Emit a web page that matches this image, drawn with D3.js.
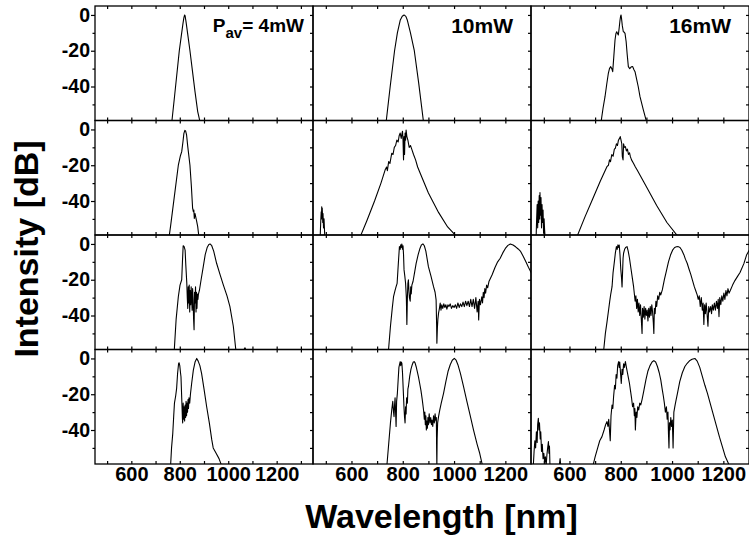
<!DOCTYPE html>
<html lang="en">
<head>
<meta charset="UTF-8">
<title>Spectra vs. average power</title>
<script src="https://cdnjs.cloudflare.com/ajax/libs/d3/7.8.5/d3.min.js"></script>
<style>
  body { margin: 0; background: #fff; }
  svg { display: block; font-family: "Liberation Sans", Arial, sans-serif; font-weight: bold; }
</style>
</head>
<body>
<svg id="chart" width="749" height="542"></svg>
<script>
// ---- data (wavelength nm, intensity dB) ----
const powerLabels = ["4mW", "10mW", "16mW"];
const xTickLabels = [600, 800, 1000, 1200];
const yTickLabels = [-40, -20, 0];
const yMinorTicks = [-50, -30, -10];
const xTickValues = [500, 600, 700, 800, 900, 1000, 1100, 1200, 1300];
const xDomains = [[450, 1350], [450, 1300], [450, 1300]];
const yDomain = [-59, 5];

// column 1: 4 mW
const s4_1 = [[767,-60],[778,-46],[788,-33],[798,-20],[806,-12],[813,-5],[817,-1.5],[820,0],[822,-0.5],[826,-4],[834,-12],[842,-20],[852,-31],[863,-43],[874,-54],[884,-60]];
const s4_2 = [[756,-60],[762,-54],[778,-37],[794,-20],[802,-15],[808,-12.4],[813,-7],[817,-2.2],[821,-0.5],[824,-0.8],[828,-3],[833,-9.6],[842,-20],[848,-32],[853,-44],[856,-46],[858,-45],[860,-49.7],[863,-47],[866,-49],[870,-51.5],[874,-54.3],[879,-60]];
const s4_3 = [[777,-60],[785,-42],[794,-29.5],[801,-23],[808,-20],[811,-10],[814,-1],[818,-1.5],[822,-3.4],[825,-12],[829,-22],
  [831,-30],[833,-36],[835,-24],[837,-33],[839,-23],[841,-38],[843,-26],[845,-34],[847,-24],[849,-30],[851,-37],[853,-25],[855,-31],[857,-42],[859,-48],[861,-27],[863,-33],[865,-24],[867,-38],[869,-27],[871,-36],[873,-28],[875,-31],[877,-28],
  [881,-26],[888,-20],[897,-12.7],[905,-6],[913,-2],[920,-0.3],[925,0],[932,-1],[940,-4],[952,-10.8],[966,-17],[980,-23],[995,-29],[1007,-35],[1021,-46],[1032,-60],[1062,-60],[1069,-58],[1076,-60]];
const s4_4 = [[762,-60],[766,-50],[771,-42],[775,-32],[778,-25],[783,-21],[787,-16.7],[791,-8.3],[795,-3],[797,-2.4],[800,-4],[803,-8],[805,-10.2],[808,-22],[811,-34],
  [812,-36],[814,-25],[816,-34],[818,-27],[820,-35],[822,-26],[824,-33],[826,-24],[828,-32],[830,-25],[832,-30],[834,-23],[836,-28],[838,-22],[841,-25],[844,-20],
  [849,-14],[856,-6.5],[863,-2],[870,0],[876,-1.5],[883,-4],[890,-8.3],[900,-17],[911,-27],[922,-36],[932,-45.4],[938,-50],[950,-53],[962,-56],[973,-60]];

// column 2: 10 mW
const s10_1 = [[735,-60],[751,-40],[768,-20],[779,-10],[790,-3],[798,-0.7],[805,0],[812,-0.8],[818,-3],[830,-10],[845,-20],[862,-38],[881,-60]];
const s10_2 = [[478,-60],[480,-52],[482,-46],[483,-50],[484,-43.2],[485,-49],[486,-44],[488,-52],[489,-47],[491,-55],[493,-50],[496,-60]];
const s10_2b = [[634,-60],[660,-51],[690,-40],[715,-30],[731,-22.7],[737,-21],[740,-23],[745,-18],[750,-19],[757,-13.3],[762,-14],[767,-10],[772,-9],[777,-5.9],[782,-7],[786,-3.5],[790,-2],[794,-5],[796,-3],[799,-1],[801,-6],[803,-17],[805,-4],[807,-14],[809,-2],[811,-6],[813,-0.3],[816,-4],[820,-6],[825,-10],[830,-9],[835,-11],[842,-14],[850,-17],[858,-21],[868,-24.5],[900,-35.5],[940,-46.5],[975,-54.5],[1011,-60]];
const s10_3 = [[744,-60],[752,-46],[759,-36],[764,-29.5],[770,-26],[774,-23.9],[778,-22],[781,-15],[784,-8],[787,-1.5],[790,-3],[792,-0.5],[794,-2],[796.5,0],[799,-3],[801,-1],[803,-6],[805,-14.5],[808,-18],[811,-22],[814,-30],[816,-45],[818,-30],[820,-22],[822,-20],[824,-26],[826,-30],[829,-32],[831,-24],[833,-28],[835.5,-23],[840,-21],[846,-16],[852,-11],[860,-6],[867,-2.5],[873,-0.5],[878.5,0],[884,-1],[890,-4],[900,-12.7],[910,-18],[920,-23.9],[926,-27],[930,-31.3],[932,-45],[933,-55.5],[935,-47],[937,-42],[939.5,-38.7],
  [943,-36],[946,-33],[949,-37],[952,-34],[956,-36],[960,-33.5],[964,-35.5],[968,-34],[972,-36.5],[976,-34],[980,-35],[985,-33.5],[990,-36],[995,-34.5],[1000,-35.5],[1005,-34],[1010,-36],[1015,-33],[1020,-35.5],[1025,-33.5],[1030,-35],[1035,-32.5],[1040,-35],[1045,-32],[1050,-34.5],[1055,-32],[1060,-35],[1065,-31],[1070,-35],[1075,-31],[1080,-36],[1085,-30],[1090,-38],[1094,-32],[1096,-42.5],[1099,-31],[1103,-34],[1108,-29.5],[1111,-33],[1114,-27],[1117,-30],[1120,-25],[1123,-27.5],[1127,-23],[1131,-24.5],[1136,-21],
  [1148,-17.4],[1160,-13],[1170,-10],[1180,-8],[1190,-5],[1200,-2.5],[1210,-0.8],[1219.5,0],[1230,-0.6],[1240,-1.6],[1250,-2.8],[1258.5,-4],[1270,-7],[1280,-10],[1290,-13],[1302,-16.4]];
const s10_4 = [[738,-60],[745,-48],[752,-36],[757,-28.8],[761,-24],[764,-30],[766,-32.5],[768,-26],[770,-22],[772,-30],[774,-38],[776,-24],[779,-19.5],[782,-12],[785,-5],[788,-3],[790,-1.8],[792,-4],[794,-2],[796.5,-2.7],[799,-8],[802,-18],[805,-28],[807,-33],[809,-36],[811,-27],[813,-31],[815,-22],[818,-25],[820,-17],[822,-15.8],[827,-10],[832,-6],[837,-3.5],[841,-2],[844.5,-1.8],[848,-2.5],[852,-4.5],[856,-7],[861,-10.2],[866,-14],[871,-18],[876,-23],[881,-28.8],
  [884,-34],[886,-30],[888,-37],[890,-32],[892,-40],[894,-35],[896,-39],[898,-33],[900,-37],[903,-31],[906,-36],[909,-33],[912,-37],[914,-34.4],[917,-38],[920,-32],[923,-36],[926,-31],[929,-35],[931,-33],[932,-50],[933,-60],[934,-45],[936,-36],[939.5,-32.5],
  [944,-29],[950,-25],[959,-19.5],[968,-13],[977,-7],[985,-3.5],[993,-1],[1001,0],[1008,-1],[1015,-3.5],[1025,-8.5],[1037,-15.8],[1050,-24],[1063,-32],[1076,-40],[1090,-48],[1100,-53],[1111,-60]];

// column 3: 16 mW
const s16_1 = [[723,-60],[731,-52],[738.6,-45.7],[745,-39],[751.6,-32.6],[756,-30],[760.8,-28.9],[765,-30],[768.6,-31.7],[773,-23],[777.6,-14],[781,-10.5],[784.2,-9.4],[787,-10.2],[790.5,-11.2],[794,-7],[797,-3],[799,-1],[801,0],[803,-2],[806,-6],[810,-9.4],[813,-9.6],[816.6,-10.3],[821,-15],[825,-22],[829.6,-28.9],[835,-30],[841,-29],[846.6,-28.9],[851,-30.5],[855.6,-31.7],[862,-36],[868,-40],[875,-45.7],[888,-53],[901,-60]];
const s16_2 = [[470,-60],[472,-50],[474,-42],[476,-55],[478,-40],[480,-52],[482,-37],[484,-50],[485,-35.3],[487,-48],[489,-38],[491,-55],[493,-42],[495,-52],[497,-45],[499,-58],[501,-50],[503,-56],[505,-60]];
const s16_2b = [[629,-60],[660,-49],[690,-39],[720,-29],[746,-20.8],[752,-20],[756,-17],[760,-18],[765,-14],[770,-15],[775,-11],[779,-10.5],[783,-8],[787,-9],[791,-6],[795,-5],[798,-4],[801,-6],[804,-8],[806,-15],[809,-17],[811,-8],[814,-10],[818,-9.6],[822,-12],[826,-11],[830,-14],[834,-13],[837.5,-15.2],[842,-17],[850,-19],[857,-21],[864,-22.7],[900,-32],[940,-42.5],[980,-52],[1024,-60]];
const s16_3 = [[733,-60],[740,-50],[746,-44],[752.5,-36.9],[757,-32],[761,-28],[766,-23.9],[770,-16],[775,-10],[779,-5],[783,-1.5],[786,-3],[789,-0.5],[792,-2],[794,-0.6],[797,-6],[800,-14],[803,-19],[805,-24],[807,-16],[809,-8],[811,-5.2],[815,-3],[819,-2],[824.5,-1.5],[829,-4],[834,-8],[840,-14],[845,-19],[850,-23.9],
  [853,-28],[856,-32],[859,-29],[862,-36],[865,-31],[868,-38],[871,-33],[874,-40],[877,-34],[880,-42],[883,-50],[885,-36],[888,-41],[891,-35],[894,-42],[897,-36],[900,-40],[903,-37],[906,-43],[909,-36],[912,-41],[915,-35],[918,-40],[921,-34],[924,-38],[927,-44],[929,-50],[931,-36],[934,-39],[937,-32],[940,-35],[944,-29],[948,-31],[952,-27],[956,-28.5],[962,-25.7],
  [970,-20],[978,-15],[986,-10],[994,-6.2],[1002,-3.5],[1010,-2],[1017,-1.6],[1024,-1.5],[1031,-2],[1038,-3.5],[1046,-6],[1052,-8.5],[1059,-10.8],[1066,-14],[1073,-17],[1080,-20.5],[1087,-24],[1092,-26],[1098,-28.5],
  [1102,-31],[1106,-29],[1110,-35],[1114,-30],[1118,-37],[1121,-33],[1124,-45],[1127,-34],[1130,-39],[1133,-33],[1136,-38],[1140,-46],[1143,-35],[1146,-38],[1150.5,-35],[1154,-39],[1157,-34],[1161,-37],[1165,-33],[1169,-37],[1173,-32],[1177,-36],[1180,-31],[1183,-40.6],[1186,-30],[1190,-34],[1194,-29],[1198,-32],[1202,-27.5],[1206,-31],[1210,-26],[1214,-29],[1218,-25],[1222,-27.5],[1227,-26],
  [1236,-23],[1245,-20.5],[1256,-18],[1265,-16],[1280,-11],[1291,-6],[1303,-3]];
const s16_4 = [[459,-60],[462,-52],[465,-46],[468,-50],[471,-41],[474,-47],[476,-37],[478.6,-33.4],[481,-40],[483,-36],[486,-45],[488,-41],[491,-52],[494,-48],[497,-56],[500,-53],[503,-58],[506,-55],[509,-60],[512,-54],[515,-50],[518,-46.5],[520,-53],[522,-49],[524,-60]];
const s16_4b = [[560,-60],[563.5,-56],[566,-60]];
const s16_4c = [[691.5,-60],[700,-55],[710,-50],[718,-46],[726.7,-43.7],[735,-40],[741,-37],[746,-35.3],[750,-38],[753,-34],[756,-40],[759,-46],[762,-32],[766,-26],[769,-28],[772,-21.4],[776,-15],[779,-17],[782,-9],[785,-11],[788,-4],[791.7,-1.8],[794,-5],[796,-2],[799,-8],[802,-14],[805,-6],[808,-9],[811,-3],[814,-5],[818,-1.8],[822,-5],[826,-8],[830,-11],[834,-14],[837.5,-17.6],[842,-22],[846,-27],[850,-25],[853,-32],[855,-28],[857,-40],[860,-30],[863,-33],[866,-27],[870,-28.8],[874,-25],[878,-26],[883,-23],[890,-18],[898,-12],[906,-7],[914,-4],[922,-2],[929,-1.2],[936,-2],[943,-4.5],[950,-8],[956,-12],[962,-17.6],[966,-21],[970,-25],[974,-30],[978,-27],[981,-34],[984,-30],[986,-42],[988,-50],[990,-36],[992,-40],[995,-33],[998,-38],[1001,-34.4],[1004,-50],[1007,-30],[1012,-26],[1016,-23],[1021,-19.5],[1030,-13],[1040,-8],[1050,-4.5],[1059,-2.7],[1068,-1.3],[1078,-0.5],[1089,0],[1098,-1.5],[1108,-5],[1118,-10],[1128,-15],[1138,-19.5],[1160,-31],[1185,-44],[1208,-55],[1224,-60]];

// rows x columns, each cell a list of line segments
const panels = [
  [[s4_1], [s10_1], [s16_1]],
  [[s4_2], [s10_2, s10_2b], [s16_2, s16_2b]],
  [[s4_3], [s10_3], [s16_3]],
  [[s4_4], [s10_4], [s16_4, s16_4b, s16_4c]]
];

// ---- layout ----
const colLeft = [95, 313, 531];
const rowTop = [6, 120.5, 235, 349.5];
const pw = 218, ph = 114.5;
const plain = d => String(d);   // "-20", "1000" (no unicode minus, no thousands comma)

const svg = d3.select("#chart");
const defs = svg.append("defs");
defs.append("clipPath").attr("id", "panel-clip")
  .append("rect").attr("width", pw).attr("height", ph);

const y = d3.scaleLinear().domain(yDomain).range([ph, 0]);

panels.forEach((row, r) => {
  row.forEach((segments, c) => {
    const x = d3.scaleLinear().domain(xDomains[c]).range([0, pw]);
    const g = svg.append("g").attr("transform", `translate(${colLeft[c]},${rowTop[r]})`);

    const line = d3.line().x(d => x(d[0])).y(d => y(d[1]));
    g.append("g").attr("clip-path", "url(#panel-clip)")
      .selectAll("path")
      .data(segments)
      .join("path")
      .attr("d", line)
      .attr("fill", "none")
      .attr("stroke", "#000")
      .attr("stroke-width", 1.1)
      .attr("stroke-linejoin", "round");

    // inner ticks on top, bottom and right
    const ticksIn = xTickValues.filter(v => v > xDomains[c][0] && v < xDomains[c][1]);
    g.append("g").call(d3.axisTop(x).tickValues(ticksIn).tickSize(-3).tickFormat(""));
    g.append("g").attr("transform", `translate(0,${ph})`)
      .call(d3.axisBottom(x).tickValues(ticksIn).tickSize(-3).tickFormat(""));
    g.append("g").attr("transform", `translate(${pw},0)`)
      .call(d3.axisRight(y).tickValues(yTickLabels.concat(yMinorTicks)).tickSize(-3).tickFormat(""));

    if (c === 0) {
      const ya = g.append("g").call(d3.axisLeft(y).tickValues(yTickLabels).tickSize(4).tickPadding(1).tickFormat(plain));
      ya.selectAll("text").attr("font-size", 19.5).attr("font-family", null).attr("fill", "#000");
      g.append("g").call(d3.axisLeft(y).tickValues(yMinorTicks).tickSize(2.5).tickFormat(""));
    }
    if (r === panels.length - 1) {
      const xa = g.append("g").attr("transform", `translate(0,${ph})`)
        .call(d3.axisBottom(x).tickValues(xTickLabels).tickSize(0).tickPadding(3).tickFormat(plain));
      xa.selectAll("text").attr("font-size", 20).attr("font-family", null).attr("fill", "#000");
    }

    g.selectAll(".domain").remove();
    g.selectAll(".tick line").attr("stroke", "#000").attr("stroke-width", 1.2);

    g.append("rect").attr("width", pw).attr("height", ph)
      .attr("fill", "none").attr("stroke", "#000").attr("stroke-width", 1.3);
  });
});

// power labels in the top row
const lab0 = svg.append("text").attr("x", colLeft[0] + pw - 9).attr("y", 32)
  .attr("text-anchor", "end").attr("font-size", 19);
lab0.append("tspan").text("P");
lab0.append("tspan").attr("font-size", 15).attr("dy", 6).text("av");
lab0.append("tspan").attr("dy", -6).text("= " + powerLabels[0]);

[1, 2].forEach(c => {
  svg.append("text").attr("x", colLeft[c] + pw - 18).attr("y", 33)
    .attr("text-anchor", "end").attr("font-size", 21).text(powerLabels[c]);
});

// axis titles
svg.append("text").attr("x", 441.5).attr("y", 528)
  .attr("text-anchor", "middle").attr("font-size", 34).text("Wavelength [nm]");
svg.append("text").attr("transform", "translate(37.5,249) rotate(-90)")
  .attr("text-anchor", "middle").attr("font-size", 34).text("Intensity [dB]");
</script>
</body>
</html>
